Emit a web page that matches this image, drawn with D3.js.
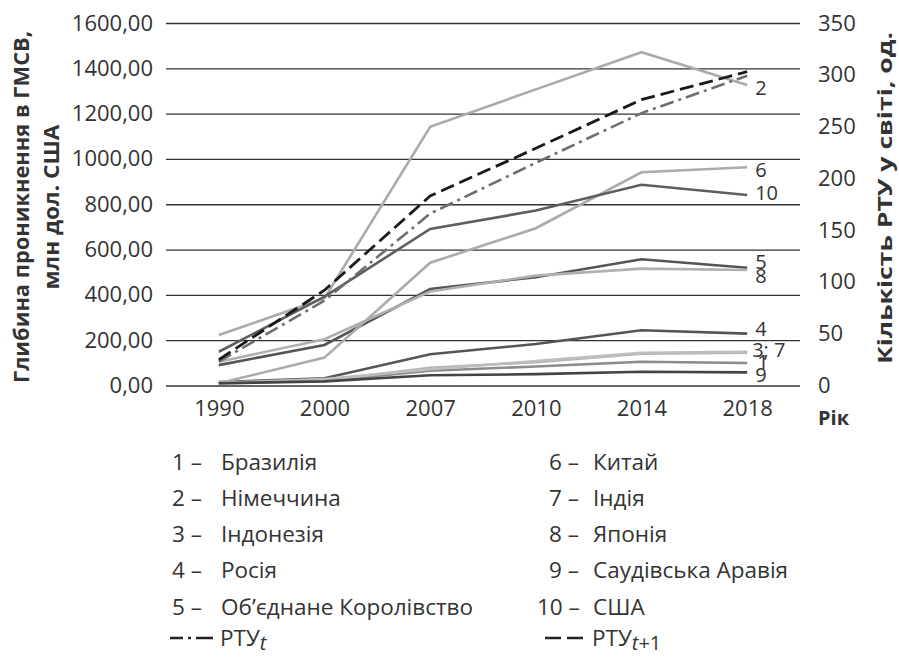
<!DOCTYPE html>
<html>
<head>
<meta charset="utf-8">
<script src="https://cdn.jsdelivr.net/npm/d3@7"></script>
<style>
  body { margin: 0; background: #fff; }
  text { font-family: "Open Sans", "Noto Sans", sans-serif; fill: #333; }
</style>
</head>
<body>
<script>
// years on x axis
var years = ["1990", "2000", "2007", "2010", "2014", "2018"];

// country series, mln USD (left axis)
var brazil    = [12, 20, 65, 84, 105, 99];
var germany   = [223, 385, 1142, 1307, 1471, 1326];
var indonesia = [8, 22, 78, 103, 140, 145];
var russia    = [15, 32, 138, 183, 244, 229];
var uk        = [90, 179, 426, 478, 557, 520];
var china     = [10, 123, 542, 694, 941, 963];
var india     = [12, 28, 72, 108, 144, 149];
var japan     = [105, 204, 415, 485, 516, 510];
var saudi     = [10, 18, 45, 50, 61, 58];
var usa       = [149, 392, 691, 772, 886, 841];

// robots count (right axis)
var rtuT  = [23, 82, 166, 215, 263, 299];
var rtuT1 = [25, 92, 183, 229, 276, 303];

var countryNames = ["Бразилія", "Німеччина", "Індонезія", "Росія", "Об’єднане Королівство",
                    "Китай", "Індія", "Японія", "Саудівська Аравія", "США"];

var leftTicks = [0, 200, 400, 600, 800, 1000, 1200, 1400, 1600];
var rightTicks = [0, 50, 100, 150, 200, 250, 300, 350];

var series = [
    {values: brazil, color: "#8c8c8c"},
    {values: germany, color: "#ababab"},
    {values: indonesia, color: "#b5b5b5"},
    {values: russia, color: "#555"},
    {values: uk, color: "#555"},
    {values: china, color: "#ababab"},
    {values: india, color: "#bdbdbd"},
    {values: japan, color: "#b0b0b0"},
    {values: saudi, color: "#444"},
    {values: usa, color: "#5e5e5e"}
];

var svg = d3.select("body").append("svg")
    .attr("width", 899)
    .attr("height", 657);

var x = d3.scalePoint().domain(years).range([166, 800]).padding(0.5);
var yL = d3.scaleLinear().domain([0, 1600]).range([385.5, 23]);
var yR = d3.scaleLinear().domain([0, 350]).range([385.5, 23]);

// left axis + gridlines
var leftAxis = svg.append("g")
    .attr("transform", "translate(166,0)")
    .call(d3.axisLeft(yL).tickValues(leftTicks).tickSize(-634).tickPadding(13)
        .tickFormat(function (d) { return d3.format(".2f")(d).replace(".", ","); }));
leftAxis.select(".domain").remove();
leftAxis.selectAll("line").attr("stroke", "#333").attr("stroke-width", 1.3);
leftAxis.selectAll("text").style("font-size", "22px").attr("fill", "#333");

var rightAxis = svg.append("g")
    .attr("transform", "translate(800,0)")
    .call(d3.axisRight(yR).tickValues(rightTicks).tickSize(0).tickPadding(18));
rightAxis.select(".domain").remove();
rightAxis.selectAll("text").style("font-size", "22px").attr("fill", "#333");

var xAxis = svg.append("g")
    .attr("transform", "translate(0,385.5)")
    .call(d3.axisBottom(x).tickSize(0).tickPadding(15));
xAxis.select(".domain").remove();
xAxis.selectAll("text").style("font-size", "22px").attr("fill", "#333");

svg.append("text").attr("x", 818).attr("y", 425)
    .style("font-size", "20px").style("font-weight", "bold").text("Рік");

// axis titles
var lt = svg.append("text")
    .attr("transform", "translate(0,207) rotate(-90)")
    .attr("text-anchor", "middle")
    .style("font-size", "21px").style("font-weight", "bold");
lt.append("tspan").attr("x", 0).attr("y", 29)
    .attr("textLength", 352).attr("lengthAdjust", "spacingAndGlyphs")
    .text("Глибина проникнення в ГМСВ,");
lt.append("tspan").attr("x", 0).attr("y", 59)
    .attr("textLength", 165).attr("lengthAdjust", "spacingAndGlyphs")
    .text("млн дол. США");

svg.append("text")
    .attr("transform", "translate(892,198) rotate(-90)")
    .attr("text-anchor", "middle")
    .attr("textLength", 332).attr("lengthAdjust", "spacingAndGlyphs")
    .style("font-size", "20px").style("font-weight", "bold")
    .text("Кількість РТУ у світі, од.");

var lineL = d3.line().x(function (d, i) { return x(years[i]); }).y(function (d) { return yL(d); });
var lineR = d3.line().x(function (d, i) { return x(years[i]); }).y(function (d) { return yR(d); });

svg.selectAll("path.country")
    .data(series)
    .enter().append("path")
    .attr("class", "country")
    .attr("d", function (d) { return lineL(d.values); })
    .attr("fill", "none")
    .attr("stroke", function (d) { return d.color; })
    .attr("stroke-width", 2.6);

svg.append("path").attr("d", lineR(rtuT))
    .attr("fill", "none").attr("stroke", "#6e6e6e").attr("stroke-width", 2.6)
    .attr("stroke-dasharray", "14,5,3,5");
svg.append("path").attr("d", lineR(rtuT1))
    .attr("fill", "none").attr("stroke", "#1a1a1a").attr("stroke-width", 2.8)
    .attr("stroke-dasharray", "14,6");

// end labels
var endLabels = [
    {text: "2", v: germany[5], dy: 3},
    {text: "6", v: china[5], dy: 3},
    {text: "10", v: usa[5], dy: -2},
    {text: "5", v: uk[5], dy: -6},
    {text: "8", v: japan[5], dy: 6},
    {text: "4", v: russia[5], dy: -5},
    {text: "3; 7", v: (indonesia[5] + india[5]) / 2, dy: -2},
    {text: "1", v: brazil[5], dy: -1},
    {text: "9", v: saudi[5], dy: 3}
];
svg.selectAll("text.endlab")
    .data(endLabels)
    .enter().append("text")
    .attr("class", "endlab")
    .attr("x", function (d) { return x("2018") + (d.text === "3; 7" ? 5 : (d.text === "1" ? 10 : 8)); })
    .attr("y", function (d) { return yL(d.v) + d.dy; })
    .attr("dy", "0.35em")
    .style("font-size", "20px")
    .text(function (d) { return d.text; });

// legend
var legend = svg.append("g").style("font-size", "22.5px");
countryNames.forEach(function (name, i) {
    var col = i < 5 ? 0 : 1;
    var row = i % 5;
    var ly = 462 + row * 36.2;
    var nx = col === 0 ? 172 : (i === 9 ? 537 : 549);
    var tx = col === 0 ? 221 : 593;
    legend.append("text").attr("x", nx).attr("y", ly).attr("dy", "0.35em").text((i + 1) + " –");
    legend.append("text").attr("x", tx).attr("y", ly).attr("dy", "0.35em").text(name);
});
var ly6 = 638;
legend.append("line").attr("x1", 170).attr("x2", 213).attr("y1", ly6).attr("y2", ly6)
    .attr("stroke", "#222").attr("stroke-width", 2.4).attr("stroke-dasharray", "13,5,3,5,17");
var t1 = legend.append("text").attr("x", 220).attr("y", ly6).attr("dy", "0.35em").text("РТУ");
t1.append("tspan").attr("dy", 4).style("font-style", "italic").style("font-size", "20px").text("t");
legend.append("line").attr("x1", 545).attr("x2", 583).attr("y1", ly6).attr("y2", ly6)
    .attr("stroke", "#222").attr("stroke-width", 2.4).attr("stroke-dasharray", "16,6");
var t2 = legend.append("text").attr("x", 592).attr("y", ly6).attr("dy", "0.35em").text("РТУ");
t2.append("tspan").attr("dy", 4).style("font-style", "italic").style("font-size", "20px").text("t");
t2.append("tspan").style("font-size", "20px").text("+1");
</script>
</body>
</html>
